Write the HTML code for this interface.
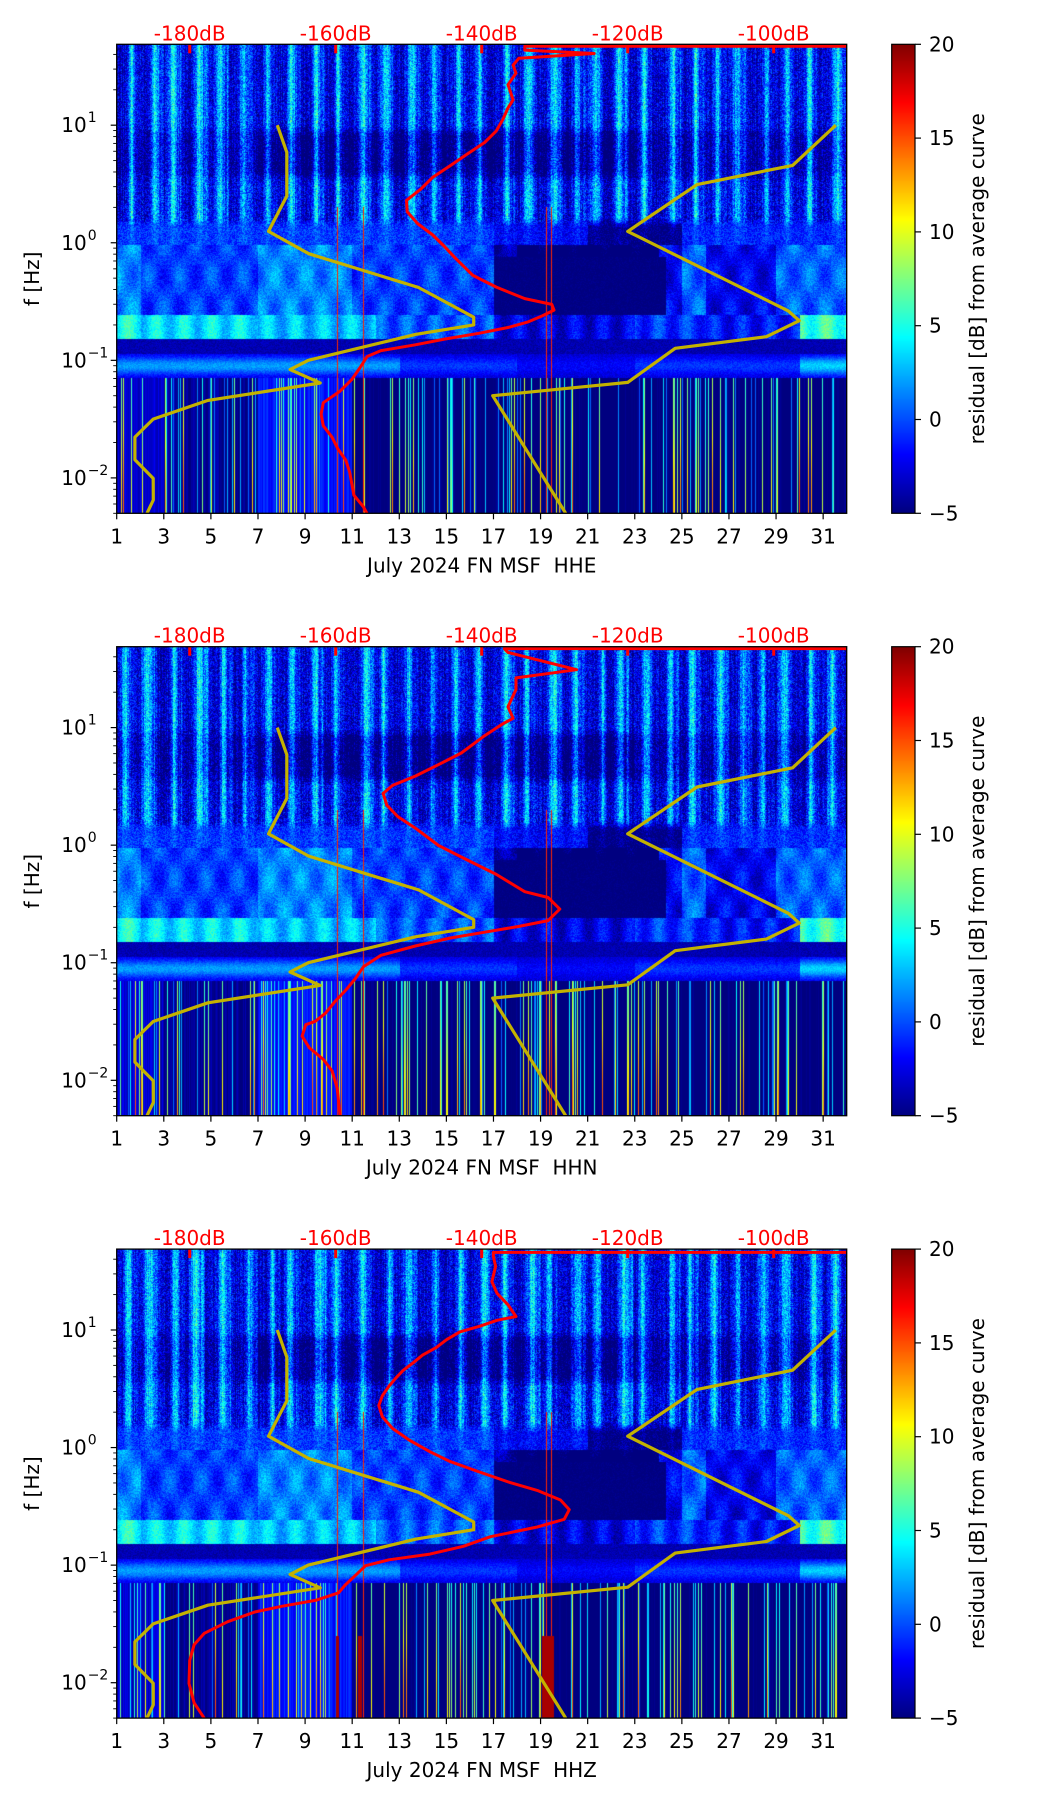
<!DOCTYPE html>
<html><head><meta charset="utf-8">
<style>
html,body{margin:0;padding:0;background:#fff;}
#root{position:relative;width:1052px;height:1806px;overflow:hidden;font-family:"DejaVu Sans","Liberation Sans",sans-serif;}
canvas{position:absolute;}
svg{position:absolute;left:0;top:0;}
</style></head>
<body>
<div id="root"></div>
<script>
// ---- data ----
const channels = ["HHE","HHN","HHZ"];
// Peterson NLNM (period s, A, B)
const nlnmP = [0.10,0.17,0.40,0.80,1.24,2.40,4.30,5.00,6.00,10.00,12.00,15.60,21.90,31.60,45.00,70.00,101.00,154.00,328.00,600.00];
const nlnmA = [-162.36,-166.7,-170.0,-166.4,-168.6,-159.98,-141.1,-71.36,-97.26,-132.18,-205.27,-37.65,-114.37,-160.58,-187.5,-216.47,-185.0,-168.34,-217.43,-258.28];
const nlnmB = [5.64,0,-8.3,28.9,52.48,29.81,0,-99.77,-66.49,-31.57,36.16,-104.33,-47.1,-16.28,0,15.7,0,-7.61,11.9,26.6];
// Peterson NHNM
const nhnmP = [0.10,0.22,0.32,0.80,3.80,4.60,6.30,7.90,15.40,20.00,354.80];
const nhnmA = [-108.73,-150.34,-122.31,-116.85,-108.48,-74.66,0.66,-93.37,73.54,-151.52,-206.66];
const nhnmB = [-17.23,-80.50,-23.87,32.51,18.08,-32.95,-127.18,-22.42,-162.98,10.01,31.63];
// red median curves: log10(freq) and dB
const redHHElogF = [1.672,1.672,1.639,1.610,1.570,1.511,1.442,1.344,1.216,1.147,1.049,0.951,0.853,0.754,0.656,0.558,0.459,0.361,0.263,0.164,0.066,-0.032,-0.131,-0.278,-0.377,-0.475,-0.524,-0.573,-0.622,-0.672,-0.721,-0.770,-0.819,-0.868,-0.917,-0.967,-1.065,-1.163,-1.262,-1.360,-1.458,-1.557,-1.655,-1.753,-1.851,-1.949,-2.049,-2.147,-2.246,-2.304];
const redHHEdB = [-90,-134.1,-134.1,-124.6,-134.9,-135.7,-135.3,-136.4,-135.7,-136.4,-137.1,-138.0,-139.6,-142.0,-144.3,-146.7,-148.3,-150.3,-150.2,-148.8,-146.7,-145.1,-143.6,-141.2,-138.0,-134.1,-130.4,-130.1,-131.7,-133.6,-136.4,-140.4,-145.1,-149.1,-153.8,-155.7,-156.7,-157.8,-159.4,-161.7,-162.0,-161.7,-160.5,-159.7,-158.6,-158.1,-157.8,-157.5,-156.2,-155.7];
const redHHNlogF = [1.672,1.672,1.639,1.492,1.423,1.324,1.177,1.079,1.029,0.931,0.784,0.685,0.587,0.508,0.440,0.341,0.243,0.145,-0.003,-0.101,-0.249,-0.396,-0.445,-0.544,-0.642,-0.691,-0.740,-0.790,-0.858,-0.937,-1.035,-1.134,-1.232,-1.330,-1.429,-1.498,-1.527,-1.625,-1.724,-1.822,-1.920,-2.068,-2.304];
const redHHNdB = [-90,-136.9,-136.4,-127.0,-135.3,-135.3,-136.4,-135.7,-137.2,-139.6,-142.8,-145.9,-149.1,-152.2,-153.5,-153.0,-151.5,-149.1,-145.9,-142.8,-138.0,-134.1,-130.9,-129.3,-130.9,-134.9,-139.6,-144.3,-149.1,-153.8,-156.2,-157.3,-158.6,-160.1,-161.4,-162.8,-164.1,-164.6,-163.6,-161.7,-160.5,-159.8,-159.4];
const redHHZlogF = [1.660,1.660,1.624,1.542,1.411,1.312,1.214,1.115,1.082,1.033,0.984,0.918,0.852,0.786,0.721,0.655,0.589,0.523,0.441,0.359,0.261,0.162,0.063,-0.035,-0.117,-0.199,-0.298,-0.364,-0.446,-0.528,-0.610,-0.676,-0.758,-0.840,-0.906,-0.955,-1.005,-1.087,-1.169,-1.235,-1.300,-1.350,-1.399,-1.481,-1.580,-1.678,-1.810,-2.007,-2.171,-2.303];
const redHHZdB = [-90,-138.4,-138.4,-138.1,-138.6,-137.9,-136.4,-135.3,-137.9,-140.2,-143.0,-144.8,-146.2,-148.1,-149.4,-150.8,-151.8,-152.7,-153.6,-154.1,-153.6,-152.2,-149.9,-147.1,-144.4,-140.7,-136.1,-132.4,-129.2,-128.0,-128.7,-132.4,-138.8,-142.5,-147.1,-152.7,-155.9,-157.3,-158.7,-159.6,-162.8,-167.4,-171.1,-174.8,-178.0,-179.4,-180.0,-180.1,-179.4,-178.0];
const redLogF = [redHHElogF, redHHNlogF, redHHZlogF];
const redDB = [redHHEdB, redHHNdB, redHHZdB];
// spectrogram daily activity (per day 1..31)
const hfAct   = [1,1,1,1.1,1,0.8,0.9,1,1,1,1,1,0.9,0.8,1,1,1,1,1,0.9,0.9,1,1,1,1,1,0.8,0.8,1,1,1];
const quietMid= [0.5,0.5,0.5,0.5,0.5,0.6,1.2,1.2,1.2,1.2,1.2,1.2,1.2,1.2,1.2,1.2,1.2,1.2,1.2,1.2,1.2,1.2,0.6,0.6,0.6,0.6,0.6,0.6,0.6,0.6,0.6];
const midBand = [0.5,0.5,0.5,0.5,0.5,0.5,0.5,0.5,0.5,0.5,0.5,0.5,0.5,0.5,0.5,0.5,-1,-1,-1,-1,-4,-4,-4,-4,0,0,0,0,0,0,0];
const microAct= [4,2,2,2,2,2,4,4,4,4,2,2,2,2,2,2,-2,-4.5,-4.5,-4.5,-4.5,-4.5,-4.5,0,3,0,0,0,3,3,3];
const bandB   = [8,7,7,7,7,7,6,6,6,6,6,3,3,3,3,3,0,0,0,0,0,0,2,2,2,1,1,1,1,9,9];
const bandC   = [4,4,4,4,4,4,4,4,4,4,4,4,2,2,2,2,2,1,1,1,1,1,2,2,2,2,2,2,2,5,5];
const lowAct  = [2,2,0,0,0,0,4,4,4,4,-1,-1,-1,-1,-1,-1,-1,-1,-1,-1,-1,-1,-1,-1,-1,-1,-1,-1,-1,-1,-1];
const redDays = [10.35,11.45,19.25,19.45];
const xTicks = [1,3,5,7,9,11,13,15,17,19,21,23,25,27,29,31];
const dbTicks = [-180,-160,-140,-120,-100];
const cbTicks = [-5,0,5,10,15,20];

// ---- layout ----
const L=116.7, W=730, H=469, TOPS=[44.3,646.7,1249.1];
const LMAX=Math.log10(48.75), LMIN=Math.log10(0.005);
const CBX=891.7, CBW=23.3;
const root=document.getElementById('root');
const NS='http://www.w3.org/2000/svg';
function xDay(d){return L+(d-1)/31*W;}
function yLog(lf,t){return t+(LMAX-lf)/(LMAX-LMIN)*H;}
function xDb(db){return L+(db+190)/100*W;}
function jet(t){t=Math.max(0,Math.min(1,t));const c=v=>Math.max(0,Math.min(1,v));
 return [c(Math.min(4*t-1.5,-4*t+4.5))*255,c(Math.min(4*t-0.5,-4*t+3.5))*255,c(Math.min(4*t+0.5,-4*t+2.5))*255];}
function rnd(a,b){let h=(a*374761393+b*668265263)|0;h=(h^(h>>>13))*1274126177|0;h=h^(h>>>16);return (h>>>0)/4294967296;}
function sstep(a,b,x){const t=Math.max(0,Math.min(1,(x-a)/(b-a)));return t*t*(3-2*t);}

function specVal(d,lf,p,ix,iy){
 const di=Math.max(0,Math.min(30,Math.floor(d-1)));
 const frac=d-Math.floor(d);
 const n=rnd(ix,iy+p*5000)*2-1;
 const cn=rnd(ix,77+p);
 const ph=0.3+0.35*rnd(di,11+p), wd=0.12+0.12*rnd(di,23+p);
 const act=Math.exp(-Math.pow((frac-ph)/wd,2))+0.6*Math.exp(-Math.pow((frac-ph-0.3)/0.07,2))*rnd(di,31);
 let vh=-3.0+7*act*hfAct[di]+2.6*n+(cn-0.5)*2.5;
 vh-=2.4*quietMid[di]*sstep(0.5,0.62,lf)*(1-sstep(0.9,1.0,lf));
 const vm=-1.2+midBand[di]+1.2*act+1.6*n;
 let vmic=-2.2+microAct[di]*0.9+1.6*Math.sin(d*4.7+p)*Math.cos(lf*11)+1.2*n;
 if(d>17&&d<24.3&&lf<-0.12)vmic=-5+0.5*n;
 const vb=-2.5+bandB[di]*0.9+1.5*Math.sin(d*5.3)+1.2*n;
 const vgap=-3.8+0.8*n;
 const vc=-3.2+bandC[di]*Math.exp(-Math.pow((lf+1.05)/0.08,2))*1.3+0.8*n;
 let vl=-4.4+lowAct[di]*0.8+(cn-0.5)*2.5;
 if(cn>0.82)vl=0+rnd(ix,999)*12*(0.5+0.5*sstep(-1.2,-2.3,lf)+0.3);
 let v;
 if(lf>0.22)v=vh;
 else if(lf>0.12)v=vm+(vh-vm)*sstep(0.12,0.22,lf);
 else if(lf>-0.02)v=vm;
 else if(lf>-0.62)v=vmic;
 else if(lf>-0.82)v=vb;
 else if(lf>-0.95)v=vgap;
 else if(lf>-1.15)v=vc;
 else v=vl;
 if(lf<0.3){for(const rd of redDays){if(Math.abs(d-rd)<0.02)v=Math.max(v,16);}}
 if(p===2&&lf<-1.6&&((d>19.05&&d<19.55)||(d>10.3&&d<10.42)||(d>11.25&&d<11.42)))v=19;
 return v;
}

function drawSpec(p){
 const cv=document.createElement('canvas');
 
 
 cv.width=W;cv.height=H;
 cv.style.left=L+'px';cv.style.top=TOPS[p]+'px';cv.style.width=W+'px';cv.style.height=H+'px';
 const ctx=cv.getContext('2d');const img=ctx.createImageData(W,H);
 for(let iy=0;iy<H;iy++){
  const lf=LMAX-(iy+0.5)/H*(LMAX-LMIN);
  for(let ix=0;ix<W;ix++){
   const d=1+(ix+0.5)/W*31;
   const v=specVal(d,lf,p,ix,iy);
   const c=jet((v+5)/25);const k=(iy*W+ix)*4;
   img.data[k]=c[0];img.data[k+1]=c[1];img.data[k+2]=c[2];img.data[k+3]=255;
  }
 }
 ctx.putImageData(img,0,0);
 root.appendChild(cv);
 const cb=document.createElement('canvas');
 
 
 cb.width=1;cb.height=H;
 cb.style.left=CBX+'px';cb.style.top=TOPS[p]+'px';cb.style.width=CBW+'px';cb.style.height=H+'px';
 const c2=cb.getContext('2d');const im2=c2.createImageData(1,H);
 for(let iy=0;iy<H;iy++){const c=jet(1-(iy+0.5)/H);im2.data[iy*4]=c[0];im2.data[iy*4+1]=c[1];im2.data[iy*4+2]=c[2];im2.data[iy*4+3]=255;}
 c2.putImageData(im2,0,0);
 root.appendChild(cb);
}
for(let p=0;p<3;p++)drawSpec(p);

const svg=document.createElementNS(NS,'svg');
svg.setAttribute('width','1052');svg.setAttribute('height','1806');


root.appendChild(svg);
function el(tag,attrs,parent){const e=document.createElementNS(NS,tag);for(const k in attrs)e.setAttribute(k,attrs[k]);(parent||svg).appendChild(e);return e;}
function txt(s,attrs,parent){const e=el('text',attrs,parent);e.textContent=s;return e;}

function modelPts(P,A,B,pmin,pmax){
 const pts=[];
 for(let i=0;i<P.length;i++){if(P[i]>=pmin&&P[i]<pmax)pts.push([P[i],A[i]+B[i]*Math.log10(P[i])]);}
 let j=0;for(let i=0;i<P.length;i++)if(P[i]<=pmax)j=i;
 pts.push([pmax,A[j]+B[j]*Math.log10(pmax)]);
 return pts;
}

for(let p=0;p<3;p++){
 const t=TOPS[p];
 const g=el('g',{});
 
 
 const clip=el('clipPath',{id:'clip'+p},g);
 el('rect',{x:L,y:t,width:W,height:H},clip);
 const lines=el('g',{'clip-path':'url(#clip'+p+')'},g);
 [[nlnmP,nlnmA,nlnmB,'nlnm-line'],[nhnmP,nhnmA,nhnmB,'nhnm-line']].forEach(m=>{
  const pts=modelPts(m[0],m[1],m[2],0.1,200);
  const d=pts.map((q,i)=>(i?'L':'M')+xDb(q[1]).toFixed(1)+','+yLog(-Math.log10(q[0]),t).toFixed(1)).join(' ');
  const pl=el('path',{d:d,fill:'none',stroke:'#c4b200','stroke-width':3.2,'stroke-linejoin':'round'},lines);
  
  
 });
 const lf=redLogF[p],db=redDB[p];
 const rd=lf.map((v,i)=>(i?'L':'M')+xDb(db[i]).toFixed(1)+','+yLog(v,t).toFixed(1)).join(' ');
 const rp=el('path',{d:rd,fill:'none',stroke:'#ff0000','stroke-width':3,'stroke-linejoin':'round'},lines);
 
 
 dbTicks.forEach(v=>{
  const x=xDb(v);
  el('line',{x1:x,x2:x,y1:t,y2:t+9,stroke:'#ff0000','stroke-width':3},g);
  const tl=txt(v+'dB',{x:x,y:t-4,'text-anchor':'middle','font-size':20,fill:'#ff0000'},g);
  
  
 });
 el('rect',{x:L,y:t,width:W,height:H,fill:'none',stroke:'#000','stroke-width':1.3},g);
 xTicks.forEach(d=>{
  const x=xDay(d);
  el('line',{x1:x,x2:x,y1:t+H,y2:t+H+6,stroke:'#000','stroke-width':1.2},g);
  const xl=txt(String(d),{x:x,y:t+H+30,'text-anchor':'middle','font-size':20,fill:'#000'},g);
  
  
 });
 const xt=txt('July 2024 FN MSF\u00a0 '+channels[p],{x:L+W/2,y:t+H+59,'text-anchor':'middle','font-size':20,fill:'#000'},g);
 
 
 for(let e=-3;e<=1;e++){
  for(let k=1;k<=9;k++){
   const lv=e+Math.log10(k);
   if(lv<LMIN-1e-6||lv>LMAX)continue;
   const y=yLog(lv,t);
   el('line',{x1:L-(k===1?6:3.5),x2:L,y1:y,y2:y,stroke:'#000','stroke-width':k===1?1.2:0.9},g);
   if(k===1){
    const yl=txt('10',{x:L-30,y:y+7,'text-anchor':'end','font-size':20,fill:'#000'},g);
    
    
    txt(e<0?'\u2212'+(-e):String(e),{x:L-29,y:y-3,'text-anchor':'start','font-size':14,fill:'#000'},g);
   }
  }
 }
 const yt=txt('f [Hz]',{x:0,y:0,'text-anchor':'middle','font-size':20,fill:'#000',transform:'translate(39,'+(t+H/2)+') rotate(-90)'},g);
 
 
 el('rect',{x:CBX,y:t,width:CBW,height:H,fill:'none',stroke:'#000','stroke-width':1.2},g);
 cbTicks.forEach(v=>{
  const y=t+H-(v+5)/25*H;
  el('line',{x1:CBX+CBW,x2:CBX+CBW+6,y1:y,y2:y,stroke:'#000','stroke-width':1.2},g);
  const cl=txt(v<0?'\u2212'+(-v):String(v),{x:CBX+CBW+14,y:y+7,'font-size':20,fill:'#000'},g);
  
  
 });
 const ct=txt('residual [dB] from average curve',{x:0,y:0,'text-anchor':'middle','font-size':20,fill:'#000',transform:'translate(984,'+(t+H/2)+') rotate(-90)'},g);
 
 
}
</script>
</body></html>
